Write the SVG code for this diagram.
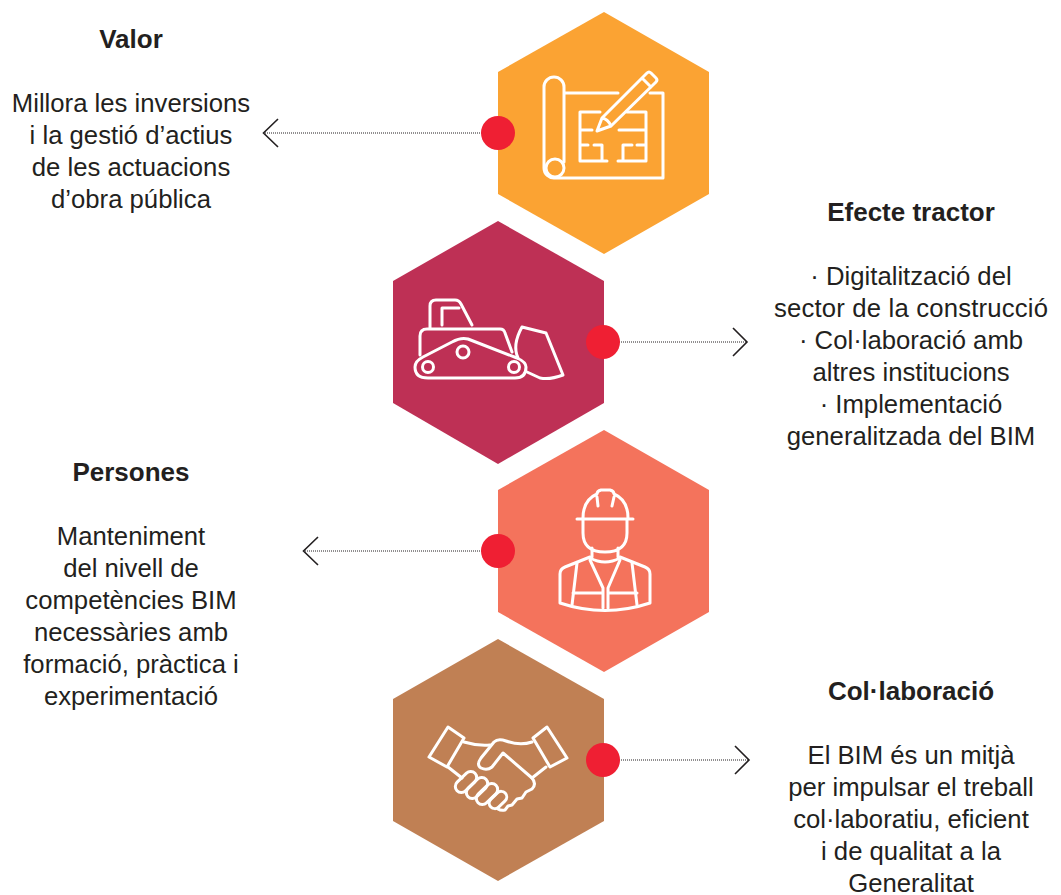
<svg xmlns="http://www.w3.org/2000/svg" width="1061" height="895" viewBox="0 0 1061 895">
<style>
text{font-family:"Liberation Sans",Arial,sans-serif;font-size:25.700px;fill:#231f20;text-anchor:middle}
.t{font-weight:700;font-size:26px}
.i{fill:none;stroke:#fff;stroke-width:3;stroke-linejoin:round;stroke-linecap:round}
.dot{fill:#ef1f33}
.ln{fill:none;stroke:#231f20;stroke-width:1;stroke-dasharray:1 1}
.ch{fill:none;stroke:#231f20;stroke-width:1.600}
</style>
<rect width="1061" height="895" fill="#fff"/>
<g id="connectors">
<path class="ln" d="M498 133H264"/><path class="ch" d="M278 119L263.500 133L278 147"/>
<path class="ln" d="M603 342H746"/><path class="ch" d="M733 328L747 342L733 356"/>
<path class="ln" d="M498 551H304"/><path class="ch" d="M318 537L303.500 551L318 565"/>
<path class="ln" d="M603 760H748"/><path class="ch" d="M735 746L749 760L735 774"/>
</g>
<g id="node-valor">
<polygon fill="#fba333" points="604,12 709,72 709,194 604,254 498,194 498,72"/>
<g class="i">
<path d="M564 93V87A10 10 0 0 0 544 87V168A10 10 0 0 0 555 178H663V93H650M564 93H618M564 93V162"/>
<circle cx="555" cy="168" r="9"/>
<path d="M600 112H580V161H607M580 130H592M580 145H588M594 145H602V161M618 161H646V112H627M619 130H646M623 145V161M623 145H632M637 145H646"/>
<path d="M597 131L602 118L647 73Q649 71 651 73L656 78Q658 80 656 82L611 126ZM642 78L651 87M602 118Q608 119 611 126"/>
</g>
<circle class="dot" cx="498" cy="133" r="17"/>
<text class="t" x="131" y="48">Valor</text>
<text x="131" y="112">Millora les inversions</text>
<text x="131" y="144">i la gestió d’actius</text>
<text x="131" y="176">de les actuacions</text>
<text x="131" y="208">d’obra pública</text>
</g>
<g id="node-efecte">
<polygon fill="#be3055" points="498,221 604,281 604,403 498,464 393,403 393,281"/>
<g class="i">
<path d="M430 328V306Q430 300 436 300H455Q459 300 461 304L472 325M442 325V308H459"/>
<path d="M420 355V336Q420 329 427 329H500Q504 329 505 333L512 352"/>
<path d="M423 357L452 342Q461 337 468 339L517 358Q526 362 526 367Q526 378 515 378H428Q415 378 415 367Q415 361 423 357Z"/>
<circle cx="428" cy="367" r="5.500"/><circle cx="463" cy="352" r="6"/><circle cx="514" cy="367" r="5.500"/>
<path d="M522 327L546 333L563 375Q550 380 540 378L527 372M522 327Q512 345 518 358"/>
</g>
<circle class="dot" cx="603" cy="342" r="17"/>
<text class="t" x="911" y="221">Efecte tractor</text>
<text x="911" y="285">· Digitalització del</text>
<text x="911" y="317" textLength="274">sector de la construcció</text>
<text x="911" y="349">· Col·laboració amb</text>
<text x="911" y="381">altres institucions</text>
<text x="911" y="413">· Implementació</text>
<text x="911" y="445">generalitzada del BIM</text>
</g>
<g id="node-persones">
<polygon fill="#f4735c" points="604,430 709,490 709,612 604,672 498,612 498,490"/>
<g class="i">
<path d="M577 519H633M583 518Q583 500 597 494Q597 491 601 490H610Q614 491 614 494Q628 500 628 518M597 497L598 506M614 497L612 506"/>
<path d="M583 520V533Q583 552 605 552Q627 552 627 533V520M592 548V557M618 548V557"/>
<path d="M590 557L565 567Q560 569 560 574V603Q605 618 650 603V574Q650 569 645 567L620 557M590 558Q605 566 620 558"/>
<path d="M590 560L603 588V608M620 560L608 588V608M577 563L572 605M632 563L637 605M573 593H603M608 593H637"/>
</g>
<circle class="dot" cx="498" cy="551" r="17"/>
<text class="t" x="131" y="481">Persones</text>
<text x="131" y="545">Manteniment</text>
<text x="131" y="577">del nivell de</text>
<text x="131" y="609">competències BIM</text>
<text x="131" y="641">necessàries amb</text>
<text x="131" y="673">formació, pràctica i</text>
<text x="131" y="705">experimentació</text>
</g>
<g id="node-col">
<polygon fill="#c08054" points="498,639 604,699 604,821 498,881 393,821 393,699"/>
<g class="i">
<path d="M448 727L464 738L447 767L429 757ZM547 727L533 738L550 767L567 758Z"/>
<path d="M464 742Q477 746 490 745"/>
<path d="M532 742Q520 746 506 741Q498 738 494 742L481 758Q476 765 481 768Q487 771 492 767L503 753L532 778Q537 784 532 789L526 792L522 798L517 799L512 805L508 806L505 810Q501 811 498 809"/>
<path d="M546 767L532 778M448 767L462 778"/>
<rect x="-6" y="-12.500" width="12" height="25" rx="6" transform="translate(466 782) rotate(46)"/>
<rect x="-6" y="-12.500" width="12" height="25" rx="6" transform="translate(477 788) rotate(46)"/>
<rect x="-6" y="-12.500" width="12" height="25" rx="6" transform="translate(487 794) rotate(46)"/>
<rect x="-5.500" y="-10" width="11" height="20" rx="5.500" transform="translate(498 800) rotate(46)"/>
</g>
<circle class="dot" cx="603" cy="760" r="17"/>
<text class="t" x="911" y="700">Col·laboració</text>
<text x="911" y="764">El BIM és un mitjà</text>
<text x="911" y="796">per impulsar el treball</text>
<text x="911" y="828">col·laboratiu, eficient</text>
<text x="911" y="860">i de qualitat a la</text>
<text x="911" y="892">Generalitat</text>
</g>
</svg>
